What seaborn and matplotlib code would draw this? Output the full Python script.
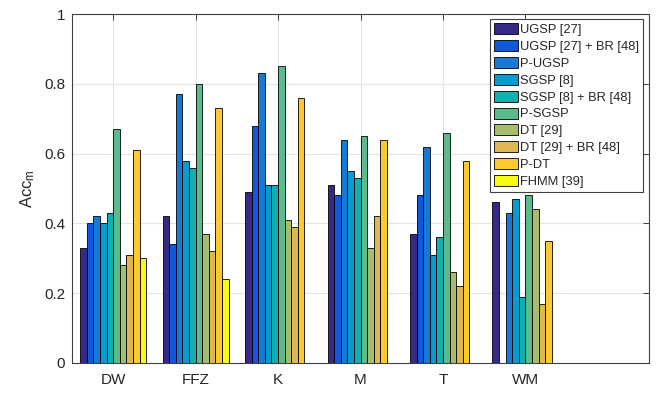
import numpy as np
import pandas as pd
import matplotlib
matplotlib.use("Agg")
import matplotlib.pyplot as plt
import seaborn as sns

datasets = ["DW", "FFZ", "K", "M", "T", "WM"]
methods = ["UGSP [27]", "UGSP [27] + BR [48]", "P-UGSP", "SGSP [8]",
           "SGSP [8] + BR [48]", "P-SGSP", "DT [29]", "DT [29] + BR [48]",
           "P-DT", "FHMM [39]"]

ugsp = [0.33, 0.42, 0.49, 0.51, 0.37, 0.46]
ugsp_br = [0.40, 0.34, 0.68, 0.48, 0.48, 0.0]
p_ugsp = [0.42, 0.77, 0.83, 0.64, 0.62, 0.43]
sgsp = [0.40, 0.58, 0.51, 0.55, 0.31, 0.47]
sgsp_br = [0.43, 0.56, 0.51, 0.53, 0.36, 0.19]
p_sgsp = [0.67, 0.80, 0.85, 0.65, 0.66, 0.48]
dt = [0.28, 0.37, 0.41, 0.33, 0.26, 0.44]
dt_br = [0.31, 0.32, 0.39, 0.42, 0.22, 0.17]
p_dt = [0.61, 0.73, 0.76, 0.64, 0.58, 0.35]
fhmm = [0.30, 0.24, 0.0, 0.0, 0.0, 0.0]

series = [ugsp, ugsp_br, p_ugsp, sgsp, sgsp_br, p_sgsp, dt, dt_br, p_dt, fhmm]

colors = ["#352A87", "#0F57DD", "#1579D5", "#079CCF", "#13AEAE",
          "#5ABC8A", "#A4BE6B", "#DEB751", "#FCCA2C", "#F9FA12"]

rows = []
for m, vals in zip(methods, series):
    for d, v in zip(datasets, vals):
        rows.append({"dataset": d, "method": m, "acc": v})
df = pd.DataFrame(rows)

sns.set_theme(style="white")
plt.rcParams["font.family"] = ["Liberation Sans", "DejaVu Sans"]
plt.rcParams["mathtext.fontset"] = "custom"
plt.rcParams["mathtext.rm"] = "Liberation Sans"
plt.rcParams["mathtext.it"] = "Liberation Sans"

fig = plt.figure(figsize=(6.57, 3.95), dpi=100)
ax = fig.add_axes([72 / 657, 32 / 395, (649 - 72) / 657, (363 - 14) / 395])

sns.barplot(data=df, x="dataset", y="acc", hue="method", order=datasets,
            hue_order=methods, palette=colors, saturation=1, errorbar=None,
            width=0.8, edgecolor="black", linewidth=0.6, ax=ax, zorder=3)

ax.set_xlim(-0.5, 6.5)
ax.set_ylim(0, 1)
ax.set_xticks(range(6))
ax.set_xticklabels(datasets)
ax.set_yticks([0, 0.2, 0.4, 0.6, 0.8, 1.0])
ax.set_yticklabels(["0", "0.2", "0.4", "0.6", "0.8", "1"])
ax.set_xlabel("")
ax.set_ylabel(r"Acc$_\mathregular{m}$", fontsize=12, color="#262626", labelpad=5)

ax.grid(True, color="#e3e3e3", linewidth=0.8, zorder=0)
ax.set_axisbelow(True)
for s in ax.spines.values():
    s.set_visible(True)
    s.set_color("#404040")
    s.set_linewidth(0.8)
ax.tick_params(direction="in", length=4.5, width=0.7, color="#404040",
               top=True, right=True, labelsize=11, labelcolor="#262626", pad=5)
ax.tick_params(axis="x", pad=7)

handles, labels = ax.get_legend_handles_labels()
leg = ax.legend(handles, labels, loc="upper right",
                bbox_to_anchor=(643 / 657, 1 - 19 / 395),
                bbox_transform=fig.transFigure, fontsize=9.3,
                frameon=True, fancybox=False, framealpha=1,
                edgecolor="#404040", handlelength=1.86, handleheight=0.93,
                handletextpad=0.15, labelspacing=0.31, borderpad=0.3,
                borderaxespad=0)
leg.get_frame().set_linewidth(0.8)

fig.savefig("out.png", dpi=100)
